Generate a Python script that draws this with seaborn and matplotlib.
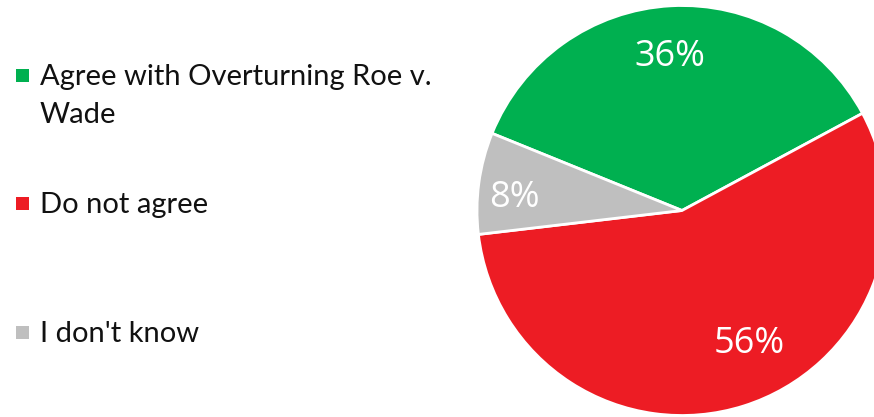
import numpy as np
import matplotlib
matplotlib.use("Agg")
import matplotlib.pyplot as plt
import matplotlib.patches as mpatches
import seaborn as sns

categories = ["Agree with Overturning Roe v.\nWade", "Do not agree", "I don't know"]
values = [36, 56, 8]
colors = ["#00B050", "#ED1C24", "#BFBFBF"]

sns.set_theme(style="white")
plt.rcParams["font.family"] = ["Lato", "DejaVu Sans"]

W, H = 874, 417
fig = plt.figure(figsize=(W / 100, H / 100), dpi=100)
fig.patch.set_facecolor("white")

cx, cy, r = 682, 210.5, 205
ax = fig.add_axes([(cx - r) / W, (H - cy - r) / H, 2 * r / W, 2 * r / H])
wedges, texts, autotexts = ax.pie(
    values, colors=colors, startangle=157.9, counterclock=False,
    autopct=lambda p: f"{p:.0f}%", pctdistance=0.75,
    wedgeprops=dict(edgecolor="white", linewidth=2),
    textprops=dict(color="white", fontsize=26, family="Open Sans"),
)
ax.set_xlim(-1, 1)
ax.set_ylim(-1, 1)
ax.set_aspect("equal")
ax.axis("off")

# label placement (Excel best fit)
label_pos = [(0.775, 94.3), (0.71, -62.3), (0.82, 174.0)]
dy = -5 / r
for t, (d, a) in zip(autotexts, label_pos):
    t.set_position((d * np.cos(np.radians(a)), d * np.sin(np.radians(a)) + dy))

# legend drawn in pixel layout (Excel style: marker beside first line)
entry_baselines = [85, 213, 342]
line_gap = 38
sq = 13
for label, col, base in zip(categories, colors, entry_baselines):
    fig.patches.append(mpatches.Rectangle(
        (16 / W, (H - (base - 3)) / H), sq / W, sq / H,
        transform=fig.transFigure, facecolor=col, edgecolor="none"))
    for i, line in enumerate(label.split("\n")):
        fig.text(40 / W, (H - (base + i * line_gap)) / H, line,
                 fontsize=21, color="#111111", va="baseline", ha="left")

fig.savefig("out.png", dpi=100, facecolor="white")
